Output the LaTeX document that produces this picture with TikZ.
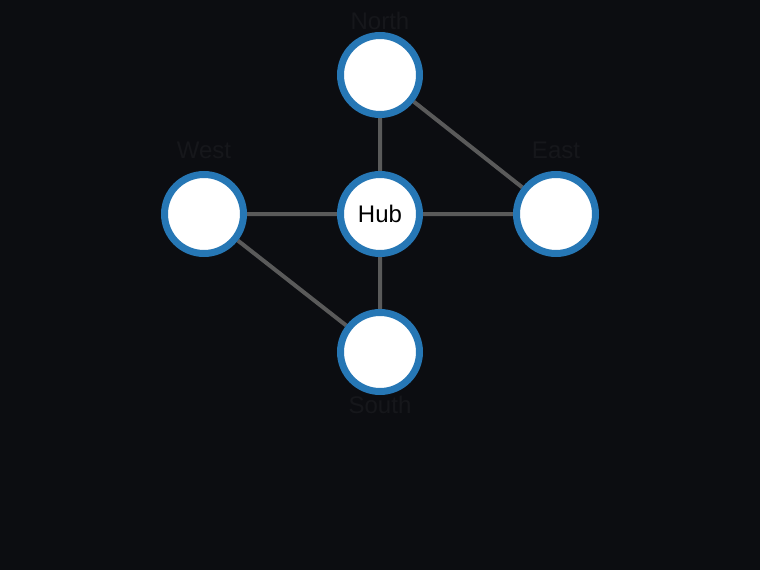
\documentclass[tikz,border=0pt]{standalone}
\usepackage{fontspec}
\setmainfont{Liberation Sans}
\usetikzlibrary{backgrounds}
\definecolor{bg}{HTML}{0C0D11}
\definecolor{ring}{HTML}{2677B5}
\definecolor{edgec}{HTML}{5A5A5A}
\definecolor{lab}{HTML}{16171B}
\begin{document}
\begin{tikzpicture}[x=1pt,y=-1pt,
  vtx/.style={circle,draw=ring,fill=white,line width=7pt,minimum size=79pt,inner sep=0pt,font=\fontsize{24}{28}\selectfont,text=black},
  lnk/.style={draw=edgec,line width=4pt},
  lbl/.style={text=lab,font=\fontsize{24}{28}\selectfont}]
\node[vtx] (N) at (380,75) {};
\node[vtx] (H) at (380,214) {Hub};
\node[vtx] (W) at (204,214) {};
\node[vtx] (E) at (556,214) {};
\node[vtx] (S) at (380,352) {};
\node[lbl] (Nl) at (380,21) {North};
\node[lbl] (Wl) at (204,150) {West};
\node[lbl] (El) at (556,150) {East};
\node[lbl] (Sl) at (380,405) {South};
\begin{scope}[on background layer]
\fill[bg] (0,0) rectangle (760,570);
\path[lnk] (N) -- (H) (W) -- (H) (H) -- (E) (H) -- (S) (N) -- (E) (W) -- (S);
\end{scope}
\useasboundingbox (0,0) rectangle (760,570);
\end{tikzpicture}
\end{document}
